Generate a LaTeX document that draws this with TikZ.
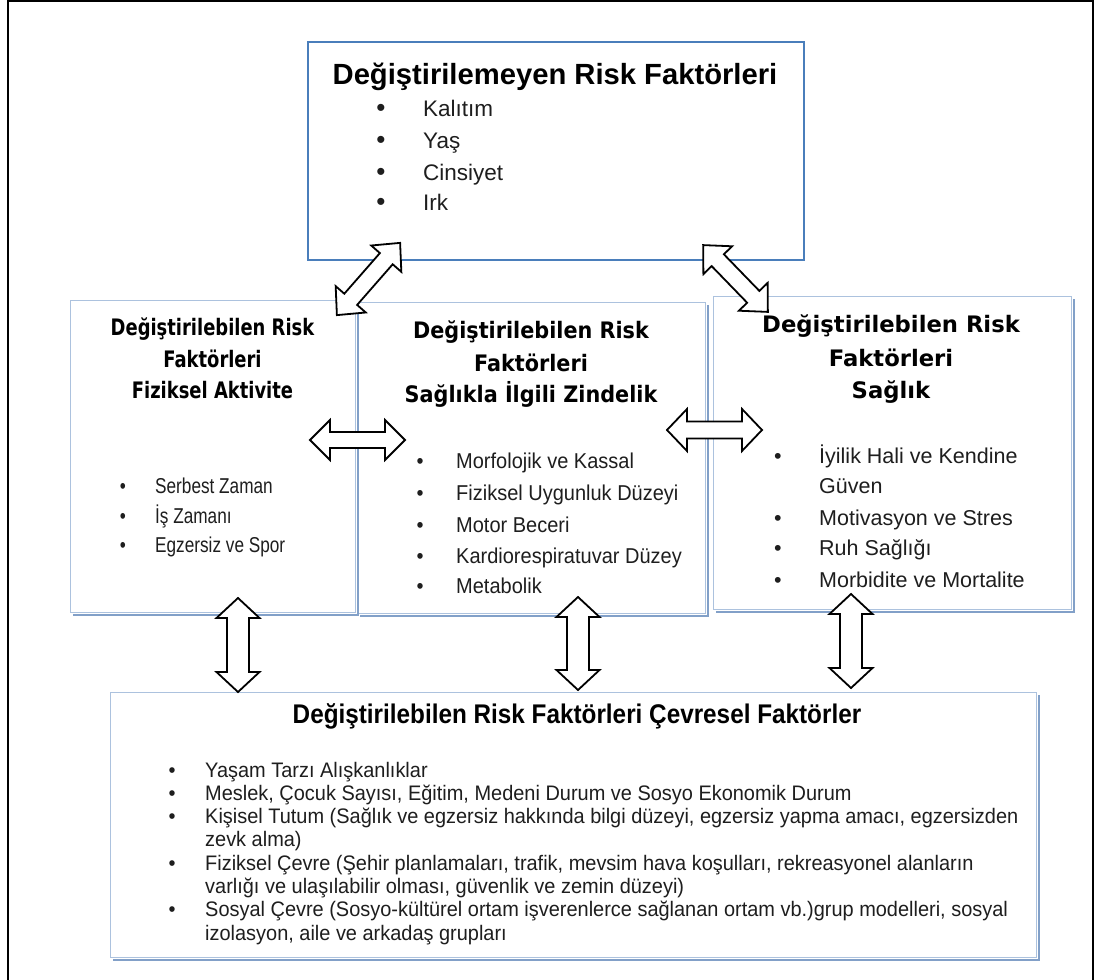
\documentclass[tikz,border=0pt]{standalone}
\usepackage{fontspec}
\setmainfont{Liberation Sans}
\newfontfamily\hA[FakeStretch=0.79]{DejaVu Sans}
\newfontfamily\hB[FakeStretch=0.915]{DejaVu Sans}
\newfontfamily\hC{DejaVu Sans}
\newfontfamily\bA[FakeStretch=0.80]{Liberation Sans}
\newfontfamily\bB[FakeStretch=0.93]{Liberation Sans}
\newfontfamily\bD[FakeStretch=0.95]{Liberation Sans}
\newfontfamily\bH[FakeStretch=0.90]{Liberation Sans}
\definecolor{topblue}{RGB}{74,126,187}
\definecolor{boxblue}{RGB}{172,194,222}
\definecolor{shadowblue}{RGB}{130,160,200}
\definecolor{txt}{RGB}{30,30,30}
% block double arrow: name, x, y, angle, length, head width, shaft width, head length
\newcommand{\BArrow}[8]{%
  \begin{scope}[shift={(#2,#3)},rotate=#4]
    \coordinate (#1) at (0,0);
    \draw[arrowline] ({-#5/2},0) -- ({-#5/2+#8},{#6/2}) -- ({-#5/2+#8},{#7/2})
      -- ({#5/2-#8},{#7/2}) -- ({#5/2-#8},{#6/2}) -- ({#5/2},0)
      -- ({#5/2-#8},{-#6/2}) -- ({#5/2-#8},{-#7/2}) -- ({-#5/2+#8},{-#7/2})
      -- ({-#5/2+#8},{-#6/2}) -- cycle;
  \end{scope}}
\begin{document}
\begin{tikzpicture}[x=1pt,y=-1pt,
  box/.style={draw=boxblue, line width=1.3pt, inner sep=0pt, anchor=north west},
  topbox/.style={draw=topblue, line width=2.2pt, inner sep=0pt, anchor=north west},
  shade/.style={draw=shadowblue, line width=2pt},
  arrowline/.style={draw=black, fill=white, line width=1.8pt, line join=miter},
  item/.style={anchor=base west, inner sep=0pt, text=txt},
  dot/.style={anchor=base, inner sep=0pt, text=txt},
  head/.style={anchor=base, inner sep=0pt, text=black},
]
\useasboundingbox (0,0) rectangle (1094,979);
\fill[white] (0,0) rectangle (1094,979);
% outer frame
\draw[line width=2pt] (8,995) -- (8,1) -- (1093,1) -- (1093,995);

% boxes
\node[topbox, minimum width=496pt, minimum height=218pt] (top) at (307,41) {};
\node[box, minimum width=285pt, minimum height=312pt] (left) at (70,300) {};
\node[box, minimum width=348pt, minimum height=311pt] (mid) at (357,302) {};
\node[box, minimum width=358pt, minimum height=313pt] (right) at (713,296) {};
\node[box, minimum width=926pt, minimum height=265pt] (bot) at (110,692) {};
\foreach \b in {left,mid,right,bot}{
  \draw[shade] ([xshift=1.5pt,yshift=-3pt]\b.north east) -- ([xshift=1.5pt,yshift=-1.5pt]\b.south east)
    -- ([xshift=3pt,yshift=-1.5pt]\b.south west);
}

% top box text
\node[head, font=\bfseries\fontsize{29.2}{35}\selectfont] (toptitle) at (555,85) {Değiştirilemeyen Risk Faktörleri};
\foreach \t/\yy [count=\i] in {Kalıtım/117, Yaş/148.5, Cinsiyet/180, Irk/210.5}{
  \node[dot, font=\fontsize{26}{28}\selectfont] (tb\i) at (381,\yy) {•};
  \node[item, font=\fontsize{22.5}{28}\selectfont] (ti\i) at (423,\yy) {\t};
}

% left box
\foreach \t/\yy [count=\i] in {Değiştirilebilen Risk/335, Faktörleri/367, Fiziksel Aktivite/398}{
  \node[head, font=\hA\bfseries\fontsize{22.7}{30}\selectfont] (lh\i) at (212.5,\yy) {\t};
}
\foreach \t/\yy [count=\i] in {Serbest Zaman/493, İş Zamanı/523, Egzersiz ve Spor/552}{
  \node[dot, font=\bA\fontsize{21.5}{26}\selectfont] (lb\i) at (123,\yy) {•};
  \node[item, font=\bA\fontsize{21.5}{26}\selectfont] (li\i) at (155,\yy) {\t};
}

% middle box
\foreach \t/\yy [count=\i] in {Değiştirilebilen Risk/338, Faktörleri/371, Sağlıkla İlgili Zindelik/402}{
  \node[head, font=\hB\bfseries\fontsize{22.7}{30}\selectfont] (mh\i) at (531,\yy) {\t};
}
\foreach \t/\yy [count=\i] in {Morfolojik ve Kassal/468, Fiziksel Uygunluk Düzeyi/500, Motor Beceri/532, Kardiorespiratuvar Düzey/563, Metabolik/593}{
  \node[dot, font=\bB\fontsize{21.5}{26}\selectfont] (mb\i) at (420,\yy) {•};
  \node[item, font=\bB\fontsize{21.5}{26}\selectfont] (mi\i) at (456,\yy) {\t};
}

% right box
\foreach \t/\yy [count=\i] in {Değiştirilebilen Risk/332, Faktörleri/366, Sağlık/398}{
  \node[head, font=\hC\bfseries\fontsize{22.7}{30}\selectfont] (rh\i) at (891,\yy) {\t};
}
\foreach \yy [count=\i] in {463,525,555,587}{
  \node[dot, font=\fontsize{21.5}{26}\selectfont] (rb\i) at (778,\yy) {•};
}
\foreach \t/\yy [count=\i] in {İyilik Hali ve Kendine/463, Güven/493, Motivasyon ve Stres/525, Ruh Sağlığı/555, Morbidite ve Mortalite/587}{
  \node[item, font=\fontsize{21.5}{26}\selectfont] (ri\i) at (819,\yy) {\t};
}

% bottom box
\node[head, font=\bH\bfseries\fontsize{27}{32}\selectfont] (bh) at (577,723) {Değiştirilebilen Risk Faktörleri Çevresel Faktörler};
\foreach \yy [count=\i] in {777,800,823,870,916}{
  \node[dot, font=\bD\fontsize{21}{24}\selectfont] (bb\i) at (172,\yy) {•};
}
\foreach \t/\yy [count=\i] in {
  Yaşam Tarzı Alışkanlıklar/777,
  {Meslek, Çocuk Sayısı, Eğitim, Medeni Durum ve Sosyo Ekonomik Durum}/800,
  {Kişisel Tutum (Sağlık ve egzersiz hakkında bilgi düzeyi, egzersiz yapma amacı, egzersizden}/823,
  {zevk alma)}/846,
  {Fiziksel Çevre (Şehir planlamaları, trafik, mevsim hava koşulları, rekreasyonel alanların}/870,
  {varlığı ve ulaşılabilir olması, güvenlik ve zemin düzeyi)}/893,
  {Sosyal Çevre (Sosyo-kültürel ortam işverenlerce sağlanan ortam vb.)grup modelleri, sosyal}/916,
  {izolasyon, aile ve arkadaş grupları}/940}{
  \node[item, font=\bD\fontsize{21}{24}\selectfont] (bi\i) at (205,\yy) {\t};
}

% block arrows: name, x, y, angle, length, head width, shaft width, head length
\BArrow{aTL}{368.5}{279}{48.8}{96}{40}{17}{21}
\BArrow{aTR}{735.5}{278.5}{-45.9}{93}{40}{17}{21}
\BArrow{aLM}{357.5}{440}{0}{95}{40}{16}{20}
\BArrow{aMR}{714.5}{430}{0}{95}{42}{17}{20}
\BArrow{aV1}{238}{645}{90}{94}{43}{22}{20}
\BArrow{aV2}{578}{643.5}{90}{93}{43}{22}{20}
\BArrow{aV3}{851}{641}{90}{94}{43}{22}{20}
\end{tikzpicture}
\end{document}
